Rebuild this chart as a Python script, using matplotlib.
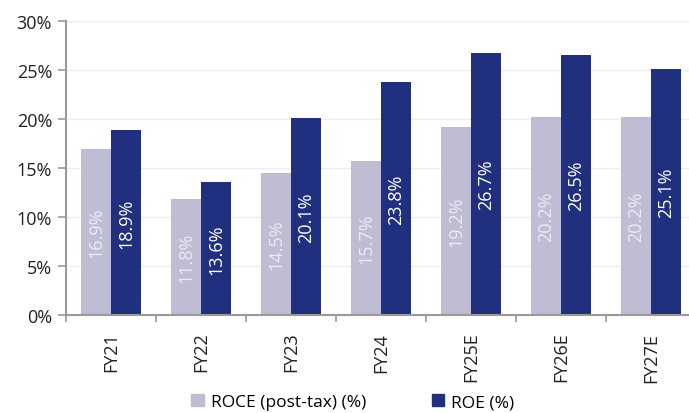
import matplotlib
matplotlib.use("Agg")
import matplotlib.pyplot as plt
import numpy as np
from matplotlib.patches import Patch

categories = ["FY21", "FY22", "FY23", "FY24", "FY25E", "FY26E", "FY27E"]
roce = [16.9, 11.8, 14.5, 15.7, 19.2, 20.2, 20.2]
roe = [18.9, 13.6, 20.1, 23.8, 26.7, 26.5, 25.1]
yticks = [0, 5, 10, 15, 20, 25, 30]

plt.rcParams['font.family'] = ['Open Sans', 'DejaVu Sans']

c_roce = "#BEBDD3"
c_roe = "#21307E"

fig = plt.figure(figsize=(6.89, 4.14), dpi=100)
ax = fig.add_axes([66/689, 1-316/414, (689-66)/689, (316-22)/414])

x = np.arange(len(categories))
w = 1/3
b1 = ax.bar(x - w/2, roce, width=w, color=c_roce, zorder=2)
b2 = ax.bar(x + w/2, roe, width=w, color=c_roe, zorder=2)

for rect, v in zip(b1, roce):
    ax.text(rect.get_x() + rect.get_width()/2, v/2, f"{v:.1f}%", rotation=90,
            ha="center", va="center", color="#ECECF2", fontsize=13, zorder=3)
for rect, v in zip(b2, roe):
    ax.text(rect.get_x() + rect.get_width()/2, v/2, f"{v:.1f}%", rotation=90,
            ha="center", va="center", color="white", fontsize=13, zorder=3)

ax.set_ylim(0, 30)
ax.set_xlim(-0.5, (689-66)/90 - 0.5)
ax.set_yticks(yticks)
ax.set_yticklabels([f"{t}%" for t in yticks], fontsize=13, color="#222222")
ax.yaxis.grid(True, color="#ECECF4", linewidth=1, zorder=0)
ax.set_axisbelow(True)

ax.set_xticks(np.arange(len(categories)) - 0.5, minor=False)
ax.set_xticklabels([])
ax.set_xticks(x, minor=True)
ax.set_xticklabels(categories, minor=True, rotation=90, fontsize=13, color="#222222")
ax.tick_params(axis="x", which="minor", length=0, pad=12)
ax.tick_params(axis="x", which="major", length=5, color="#999999", width=1.2)
ax.tick_params(axis="y", length=6, color="#999999", width=1.2, pad=4)

for s in ["top", "right"]:
    ax.spines[s].set_visible(False)
for s in ["left", "bottom"]:
    ax.spines[s].set_color("#999999")
    ax.spines[s].set_linewidth(1.5)

handles = [Patch(color=c_roce, label="ROCE (post-tax) (%)"),
           Patch(color=c_roe, label="ROE (%)")]
fig.legend(handles=handles, loc="center", bbox_to_anchor=(0.512, 1-403/414), ncol=2,
           frameon=False, fontsize=12.5, handlelength=0.7, handleheight=0.7,
           handletextpad=0.4, columnspacing=3.8)

fig.savefig("out.png", dpi=100)
